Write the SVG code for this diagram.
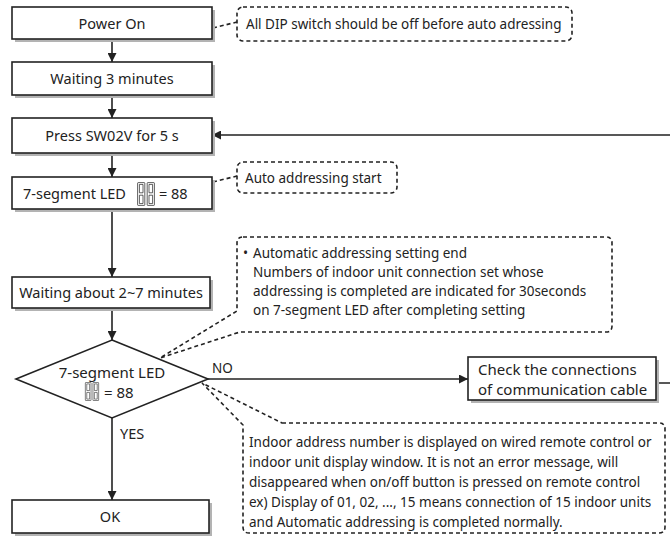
<svg xmlns="http://www.w3.org/2000/svg" xmlns:xlink="http://www.w3.org/1999/xlink" width="670" height="537" viewBox="0 0 670 537">
<style>
  text { font-family: "Noto Sans", "Open Sans", sans-serif; font-size: 13.5px; fill: #222; }
  .c { text-anchor: middle; }
  .bt { font-size: 14.5px; }
  .dt { font-size: 15px; }
  .box { fill: #fff; stroke: #222; stroke-width: 1.6; }
  .shadow { fill: #b3b3b3; }
  .line { fill: none; stroke: #222; stroke-width: 1.6; }
  .note { fill: none; stroke: #222; stroke-width: 1.6; stroke-dasharray: 4 3; }
  .seg { fill: none; stroke: #222; stroke-width: 1.2; }
</style>
<defs>
  <marker id="arr" viewBox="0 0 10 10" refX="10" refY="5" markerWidth="9" markerHeight="9" markerUnits="userSpaceOnUse" orient="auto">
    <path d="M0,0 L10,5 L0,10 Z" fill="#222"/>
  </marker>
  <symbol id="led88" viewBox="0 0 30 40">
    <path class="seg" d="M2,1 H12 Q13,1 13,2 V38 Q13,39 12,39 H2 Q1,39 1,38 V2 Q1,1 2,1 Z M4,4 H10 V18 H4 Z M4,22 H10 V36 H4 Z"/>
    <path class="seg" d="M18,1 H28 Q29,1 29,2 V38 Q29,39 28,39 H18 Q17,39 17,38 V2 Q17,1 18,1 Z M20,4 H26 V18 H20 Z M20,22 H26 V36 H20 Z"/>
  </symbol>
</defs>
<rect width="670" height="537" fill="#fff"/>

<g id="connectors">
  <line class="line" x1="112" y1="39" x2="112" y2="62" marker-end="url(#arr)"/>
  <line class="line" x1="112" y1="95" x2="112" y2="118" marker-end="url(#arr)"/>
  <line class="line" x1="112" y1="153" x2="112" y2="177" marker-end="url(#arr)"/>
  <line class="line" x1="112" y1="209" x2="112" y2="277" marker-end="url(#arr)"/>
  <line class="line" x1="112" y1="308" x2="112" y2="340" marker-end="url(#arr)"/>
  <line class="line" x1="112" y1="418" x2="112" y2="500" marker-end="url(#arr)"/>
  <line class="line" x1="208" y1="379" x2="468" y2="379" marker-end="url(#arr)"/>
  <path class="line" d="M656,383 H674 V135 H212" marker-end="url(#arr)"/>
  <line class="note" x1="213" y1="28" x2="237" y2="22"/>
  <line class="note" x1="213" y1="182" x2="237" y2="176"/>
  <text x="212" y="373">NO</text>
  <text x="120" y="439" style="font-size:14.5px">YES</text>
</g>

<g id="power-on">
  <rect class="shadow" x="15" y="10" width="200" height="32"/>
  <rect class="box" x="12" y="7" width="200" height="32"/>
  <text class="c bt" x="112" y="29">Power On</text>
</g>

<g id="note-dip">
  <rect class="note" x="237" y="7" width="335" height="34" rx="6"/>
  <text x="246" y="29">All DIP switch should be off before auto adressing</text>
</g>

<g id="waiting-3">
  <rect class="shadow" x="15" y="65" width="200" height="33"/>
  <rect class="box" x="12" y="62" width="200" height="33"/>
  <text class="c bt" x="112" y="84">Waiting 3 minutes</text>
</g>

<g id="press-sw02v">
  <rect class="shadow" x="15" y="121" width="200" height="35"/>
  <rect class="box" x="12" y="118" width="200" height="35"/>
  <text class="c bt" x="112" y="141">Press SW02V for 5 s</text>
</g>

<g id="led-88">
  <rect class="shadow" x="15" y="180" width="200" height="32"/>
  <rect class="box" x="12" y="177" width="200" height="32"/>
  <text class="bt" x="23" y="199">7-segment LED</text>
  <use xlink:href="#led88" x="132" y="182" width="28" height="24"/>
  <text class="bt" x="159" y="199">= 88</text>
</g>

<g id="note-auto-start">
  <rect class="note" x="237" y="162" width="160" height="31" rx="6"/>
  <text x="245" y="183">Auto addressing start</text>
</g>

<g id="note-setting-end">
  <path class="note" d="M243,237 H606 Q612,237 612,243 V326 Q612,332 606,332 H240 L160,358 L237,311 V243 Q237,237 243,237 Z"/>
  <text x="243" y="258">•</text>
  <text x="253" y="258">Automatic addressing setting end</text>
  <text x="253" y="277">Numbers of indoor unit connection set whose</text>
  <text x="253" y="296">addressing is completed are indicated for 30seconds</text>
  <text x="253" y="315">on 7-segment LED after completing setting</text>
</g>

<g id="waiting-2-7">
  <rect class="shadow" x="15" y="280" width="198" height="31"/>
  <rect class="box" x="12" y="277" width="198" height="31"/>
  <text class="c bt" x="111" y="298">Waiting about 2~7 minutes</text>
</g>

<g id="decision">
  <path class="box" d="M112,340 L208,379 L112,418 L16,379 Z"/>
  <text class="c dt" x="112" y="378">7-segment LED</text>
  <use xlink:href="#led88" x="83" y="382" width="18" height="19"/>
  <text class="dt" x="104" y="398">= 88</text>
</g>

<g id="check-cable">
  <rect class="shadow" x="471" y="360" width="188" height="43"/>
  <rect class="box" x="468" y="357" width="188" height="43"/>
  <text class="dt" x="478" y="375">Check the connections</text>
  <text class="dt" x="478" y="395">of communication cable</text>
</g>

<g id="note-indoor">
  <path class="note" d="M282,423 H659 Q665,423 665,429 V527 Q665,533 659,533 H249 Q243,533 243,527 V425 L202,383 Z"/>
  <text x="249" y="447">Indoor address number is displayed on wired remote control or</text>
  <text x="249" y="467">indoor unit display window. It is not an error message, will</text>
  <text x="249" y="487">disappeared when on/off button is pressed on remote control</text>
  <text x="249" y="507">ex) Display of 01, 02, ..., 15 means connection of 15 indoor units</text>
  <text x="249" y="527">and Automatic addressing is completed normally.</text>
</g>

<g id="ok">
  <rect class="shadow" x="15" y="503" width="197" height="33"/>
  <rect class="box" x="12" y="500" width="197" height="33"/>
  <text class="c bt" x="110" y="522">OK</text>
</g>
</svg>
